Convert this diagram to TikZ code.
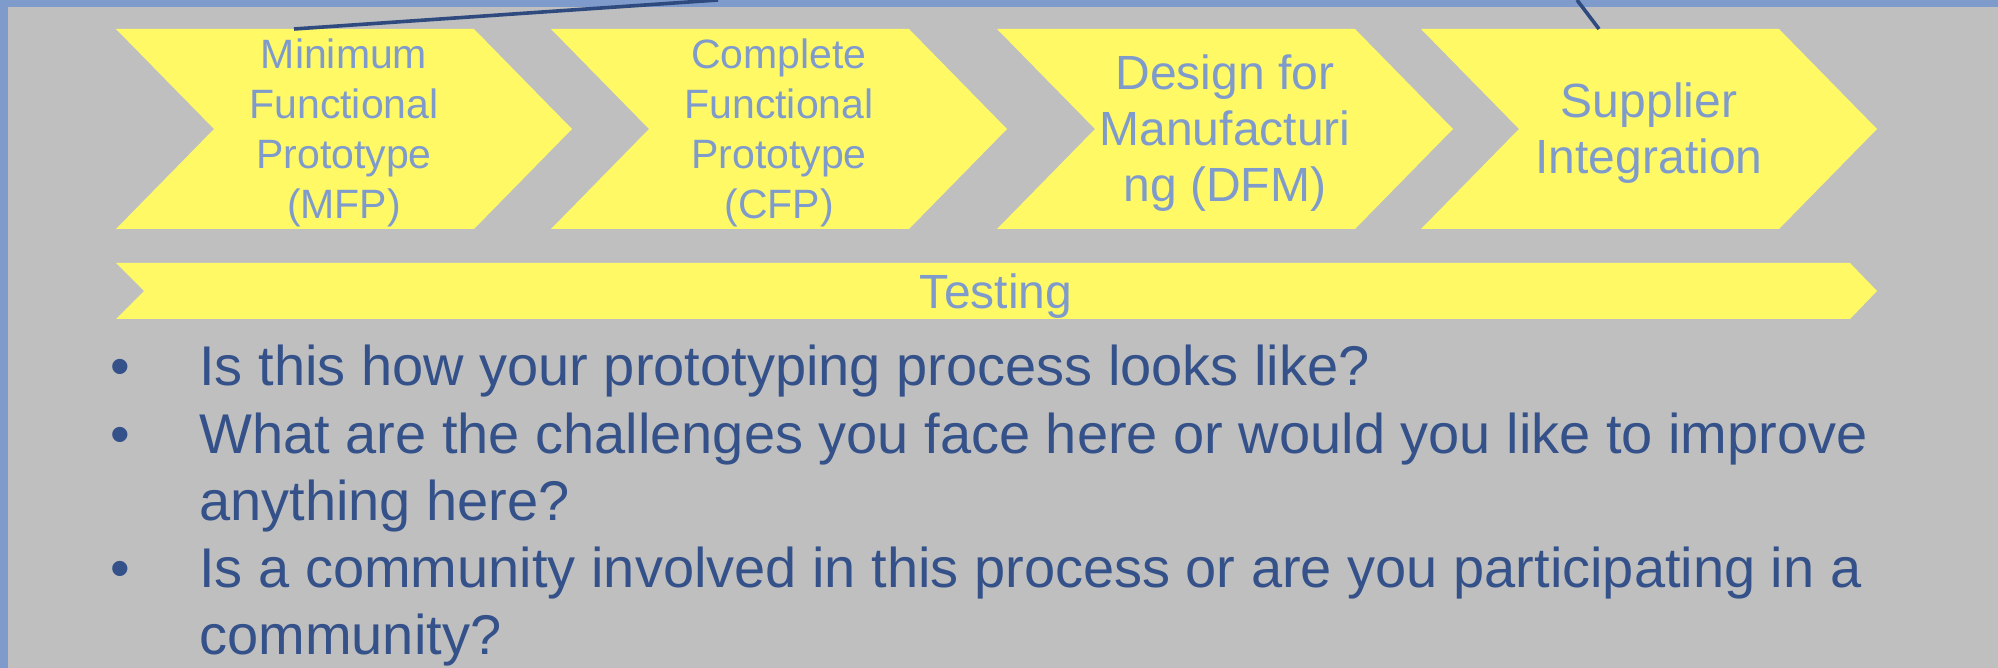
\documentclass[tikz,border=0pt]{standalone}
\usepackage{fontspec}
\setmainfont{Liberation Sans}

\definecolor{slidegray}{HTML}{BFBFBF}
\definecolor{frameblue}{HTML}{7F9BCC}
\definecolor{stepyellow}{HTML}{FFF966}
\definecolor{bulletnavy}{HTML}{34518A}
\definecolor{linknavy}{HTML}{2E4A7E}

\tikzset{
  chevtext/.style={align=center, text=frameblue, inner sep=0pt,
    font=\fontsize{20.5}{25}\selectfont},
  chevtextbig/.style={chevtext, font=\fontsize{24}{28}\selectfont},
  bullettext/.style={anchor=base west, align=left, inner sep=0pt,
    text=bulletnavy, font=\fontsize{28}{33.5}\selectfont},
  bulletdot/.style={anchor=base, inner sep=0pt, text=bulletnavy,
    font=\fontsize{28}{33.5}\selectfont},
  link/.style={draw=linknavy, line width=1.8pt},
}

\begin{document}
\begin{tikzpicture}[x=0.5pt,y=-0.5pt]
% Slide background and frame
\fill[slidegray] (0,0) rectangle (1998,668);
\useasboundingbox (0,0) rectangle (1998,668);
\fill[frameblue] (0,0) rectangle (1998,7);
\fill[frameblue] (0,0) rectangle (8,668);

% Step 1: MFP
\fill[stepyellow] (116,29) -- (474,29) -- (572,129) -- (474,229) -- (116,229) -- (214,129) -- cycle;
\node[chevtext] (mfp) at (344,133) {Minimum\\Functional\\Prototype\\(MFP)};

% Step 2: CFP
\fill[stepyellow] (551,29) -- (909,29) -- (1007,129) -- (909,229) -- (551,229) -- (649,129) -- cycle;
\node[chevtext] (cfp) at (779,133) {Complete\\Functional\\Prototype\\(CFP)};

% Step 3: DFM
\fill[stepyellow] (997,29) -- (1355,29) -- (1453,129) -- (1355,229) -- (997,229) -- (1095,129) -- cycle;
\node[chevtextbig] (dfm) at (1225,133) {Design for\\Manufacturi\\ng (DFM)};

% Step 4: suppliers
\fill[stepyellow] (1421,29) -- (1779,29) -- (1877,129) -- (1779,229) -- (1421,229) -- (1519,129) -- cycle;
\node[chevtextbig] (supplier) at (1649,133) {Supplier\\Integration};

% Testing bar under all steps
\fill[stepyellow] (116,263) -- (1850,263) -- (1877,291) -- (1850,319) -- (116,319) -- (144,291) -- cycle;
\node[chevtextbig] (testing) at (996,296) {Testing};

% Questions (base = last line)
\node[bulletdot] (dot1) at (120,386) {•};
\node[bullettext] (q1) at (199,386) {Is this how your prototyping process looks like?};
\node[bulletdot] (dot2) at (120,453) {•};
\node[bullettext] (q2) at (199,520) {What are the challenges you face here or would you like to improve\\anything here?};
\node[bulletdot] (dot3) at (120,587) {•};
\node[bullettext] (q3) at (199,654) {Is a community involved in this process or are you participating in a\\community?};

% Callout lines leaving the slide
\coordinate (mfptop) at (294,29);
\coordinate (linkA) at (718,0);
\coordinate (suppliertop) at (1599,29);
\coordinate (linkB) at (1577,0);
\draw[link] (mfptop) -- (linkA);
\draw[link] (suppliertop) -- (linkB);
\end{tikzpicture}
\end{document}
